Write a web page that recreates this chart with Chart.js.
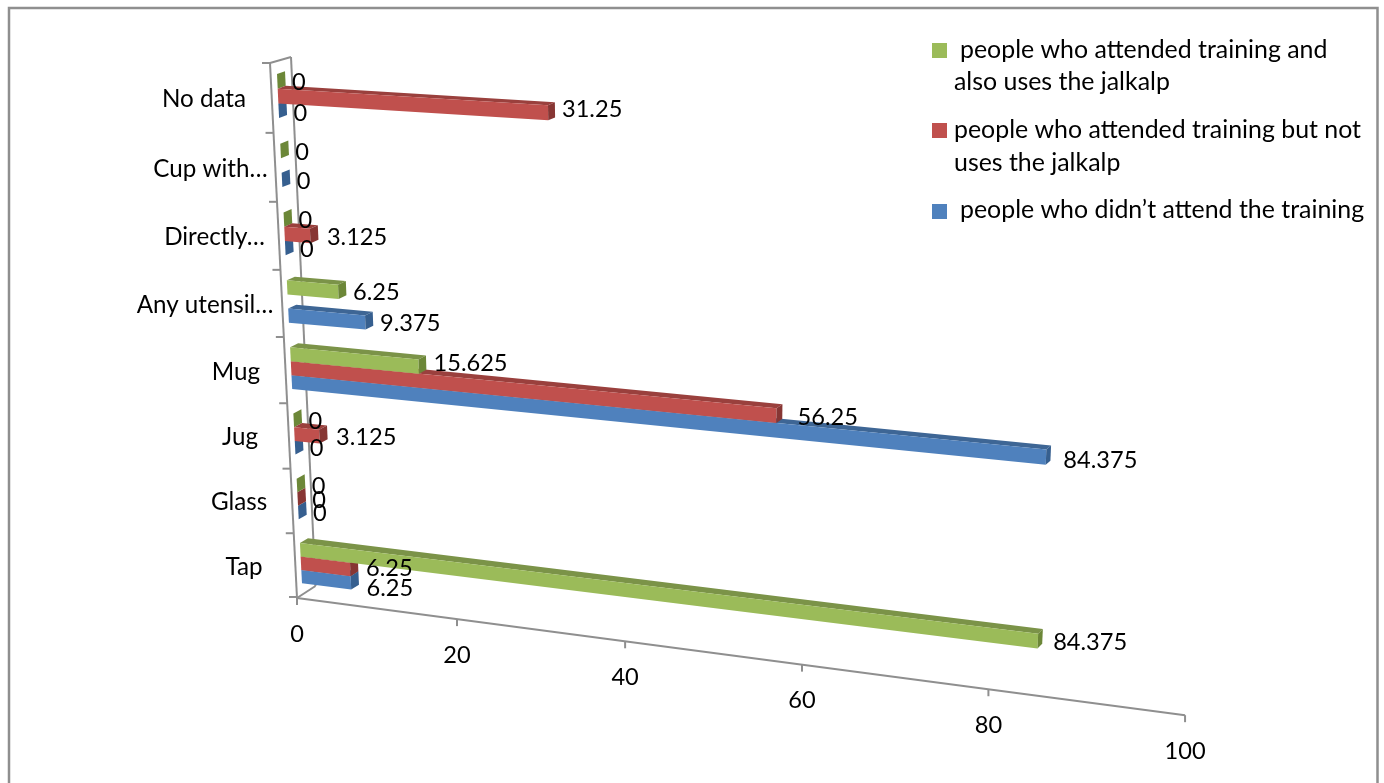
<!DOCTYPE html>
<html>
<head>
<meta charset="utf-8">
<title>Jalkalp usage</title>
<script src="https://cdn.jsdelivr.net/npm/chart.js@4/dist/chart.umd.min.js"></script>
<style>
html,body{margin:0;background:#fff}
canvas{display:block}
</style>
</head>
<body>
<canvas id="c" width="1384" height="783"></canvas>
<script>
'use strict';
const categories=['Tap','Glass','Jug','Mug','Any utensil…','Directly…','Cup with…','No data'];
const attendedAndUses=[84.375,0,0,15.625,6.25,0,0,0];
const attendedNotUses=[6.25,0,3.125,56.25,null,3.125,null,31.25];
const notAttended=[6.25,0,0,84.375,9.375,0,0,0];
const valueTicks=[0,20,40,60,80,100];
const seriesNames=['people who attended training and also uses the jalkalp','people who attended training but not uses the jalkalp','people who didn’t attend the training'];

const NUM_FONT='23.6px Lato',CAT_FONT='24.2px Lato',LEGEND_FONT='24.9px Lato';
const AXIS='#8f8f8f';
const faces={
  '#9BBB59':{top:'#7B9348',end:'#6C8738'},
  '#C0504D':{top:'#9A403D',end:'#873634'},
  '#4F81BD':{top:'#3E6695',end:'#365F8F'}
};
// category label centres, Excel placed these unevenly
const catLabelX=[244,239,240,236,205,214.5,210.5,204];
// hand-moved data labels, "dataset:category" -> dx,dy
const labelNudge={'1:0':[1,-2],'2:0':[1,5],'0:3':[0,-4],'1:3':[6,1],'2:3':[2,2],'1:7':[-1,-4],'2:7':[0,2],'1:5':[2,0],'1:2':[2,0]};

const SLANT=0.121;
const persp=s=>s/(1-SLANT*s);
const wallEase=t=>562.7*t/(1+0.0538*t);
// s,t are 0..1 across the value and category scales -> page coords on the bar plane
function project(s,t){
  const r=persp(s);
  return{x:276.4+26.2*t+(835-55*t)*r,y:61+wallEase(t)+(48+54*t)*r};
}
const floorPt=s=>{const r=persp(s);return{x:297+780.6*r,y:598+103*r};};
const wallPt=t=>{const f=wallEase(t);return{x:270+27*f/534,y:63+f};};

function poly(ctx,pts,fill){
  ctx.beginPath();
  pts.forEach((p,i)=>i?ctx.lineTo(p.x,p.y):ctx.moveTo(p.x,p.y));
  ctx.closePath();ctx.fillStyle=fill;ctx.fill();
}
function line(ctx,a,b){ctx.beginPath();ctx.moveTo(a.x,a.y);ctx.lineTo(b.x,b.y);ctx.stroke();}

function barGeometry(chart,el){
  const a=chart.chartArea,sc=chart.scales.x;
  const s=sc.getDecimalForPixel(el.x);
  const tA=(el.y-el.height/2-a.top)/a.height,tB=(el.y+el.height/2-a.top)/a.height;
  return{s,tA,tB,tr:project(s,tA),br:project(s,tB)};
}
function drawBar(ctx,chart,el,col){
  const g=barGeometry(chart,el),f=faces[col];
  // extrusion shrinks a little towards the far end of the bar
  const depth=(p,s)=>({x:p.x+8-3.5*persp(s),y:p.y-(2.8+2.2*g.tA)});
  const tl=project(0,g.tA),bl=project(0,g.tB);
  if(g.s>0){
    poly(ctx,[tl,g.tr,depth(g.tr,g.s),depth(tl,0)],f.top);
    poly(ctx,[tl,g.tr,g.br,bl],col);
  }
  poly(ctx,[g.tr,depth(g.tr,g.s),depth(g.br,g.s),g.br],f.end);
}

const perspectivePlugin={
  id:'perspective',
  beforeDraw(chart){
    const ctx=chart.ctx;
    ctx.save();
    ctx.fillStyle='#fff';ctx.fillRect(0,0,1384,783);
    ctx.strokeStyle=AXIS;ctx.lineWidth=2.5;
    ctx.beginPath();ctx.moveTo(9,783);ctx.lineTo(9,8);ctx.lineTo(1377.5,8);ctx.lineTo(1377.5,783);ctx.stroke();
    // wall and floor
    ctx.lineWidth=2;
    const o=floorPt(0),top=wallPt(0),backTop={x:291,y:57},backBot={x:315.5,y:586};
    line(ctx,o,top);line(ctx,top,backTop);line(ctx,backTop,backBot);line(ctx,backBot,o);
    line(ctx,o,floorPt(1));
    categories.concat('').forEach((c,i)=>{
      const p=wallPt(i/categories.length);
      line(ctx,p,{x:p.x-8,y:p.y});
    });
    const sc=chart.scales.x;
    valueTicks.forEach(v=>{
      const p=floorPt(sc.getDecimalForPixel(sc.getPixelForValue(v)));
      line(ctx,p,{x:p.x,y:p.y+7});
    });
    ctx.restore();
  },
  // the flat rectangles are replaced by the projected ones below
  beforeDatasetDraw(){return false;},
  afterDatasetsDraw(chart){
    const ctx=chart.ctx,ds=chart.data.datasets;
    ctx.save();
    const order=[2,1,0];
    [true,false].forEach(zeroPass=>{
      order.forEach(di=>{
        chart.getDatasetMeta(di).data.forEach((el,i)=>{
          const v=ds[di].data[i];
          if(v===null||(v===0)!==zeroPass)return;
          drawBar(ctx,chart,el,ds[di].backgroundColor);
        });
      });
    });
    ctx.font=NUM_FONT;ctx.fillStyle='#000';ctx.textBaseline='middle';ctx.textAlign='left';
    ds.forEach((d,di)=>{
      chart.getDatasetMeta(di).data.forEach((el,i)=>{
        const v=d.data[i];
        if(v===null)return;
        const g=barGeometry(chart,el),n=labelNudge[di+':'+i]||[0,0];
        ctx.fillText(String(v),g.tr.x+15+n[0],(g.tr.y+g.br.y)/2+1+n[1]);
      });
    });
    ctx.restore();
  },
  afterDraw(chart){
    const ctx=chart.ctx,sc=chart.scales.x,yS=chart.scales.y,a=chart.chartArea;
    ctx.save();
    ctx.fillStyle='#000';ctx.textBaseline='middle';ctx.textAlign='center';
    ctx.font=NUM_FONT;
    valueTicks.forEach(v=>{
      const p=floorPt(sc.getDecimalForPixel(sc.getPixelForValue(v)));
      ctx.fillText(String(v),p.x,p.y+36);
    });
    ctx.font=CAT_FONT;
    categories.forEach((c,i)=>{
      const t=(yS.getPixelForValue(i)-a.top)/a.height;
      ctx.fillText(c,catLabelX[i],wallPt(t).y+1.5);
    });
    // legend, wrapped by hand
    ctx.textAlign='left';ctx.font=LEGEND_FONT;
    const rows=[
      {y:43,col:0,lines:[[960,50,'people who attended training and'],[954,82,'also uses the jalkalp']]},
      {y:123,col:1,lines:[[954,130,'people who attended training but not'],[954,163,'uses the jalkalp']]},
      {y:204,col:2,lines:[[960,210,seriesNames[2]]]}
    ];
    rows.forEach(r=>{
      ctx.fillStyle=chart.data.datasets[r.col].backgroundColor;
      ctx.fillRect(932,r.y,15,15);
      ctx.fillStyle='#000';
      r.lines.forEach(l=>ctx.fillText(l[2],l[0],l[1]));
    });
    ctx.restore();
  }
};

new Chart(document.getElementById('c'),{
  type:'bar',
  data:{labels:categories,datasets:[
    {label:seriesNames[0],data:attendedAndUses,backgroundColor:'#9BBB59'},
    {label:seriesNames[1],data:attendedNotUses,backgroundColor:'#C0504D'},
    {label:seriesNames[2],data:notAttended,backgroundColor:'#4F81BD'}
  ]},
  options:{
    indexAxis:'y',responsive:false,animation:false,
    layout:{padding:0},
    datasets:{bar:{categoryPercentage:0.63,barPercentage:1}},
    plugins:{legend:{display:false},tooltip:{enabled:false}},
    scales:{
      x:{display:false,min:0,max:100},
      y:{display:false,reverse:true}
    }
  },
  plugins:[perspectivePlugin]
});
</script>
</body>
</html>
